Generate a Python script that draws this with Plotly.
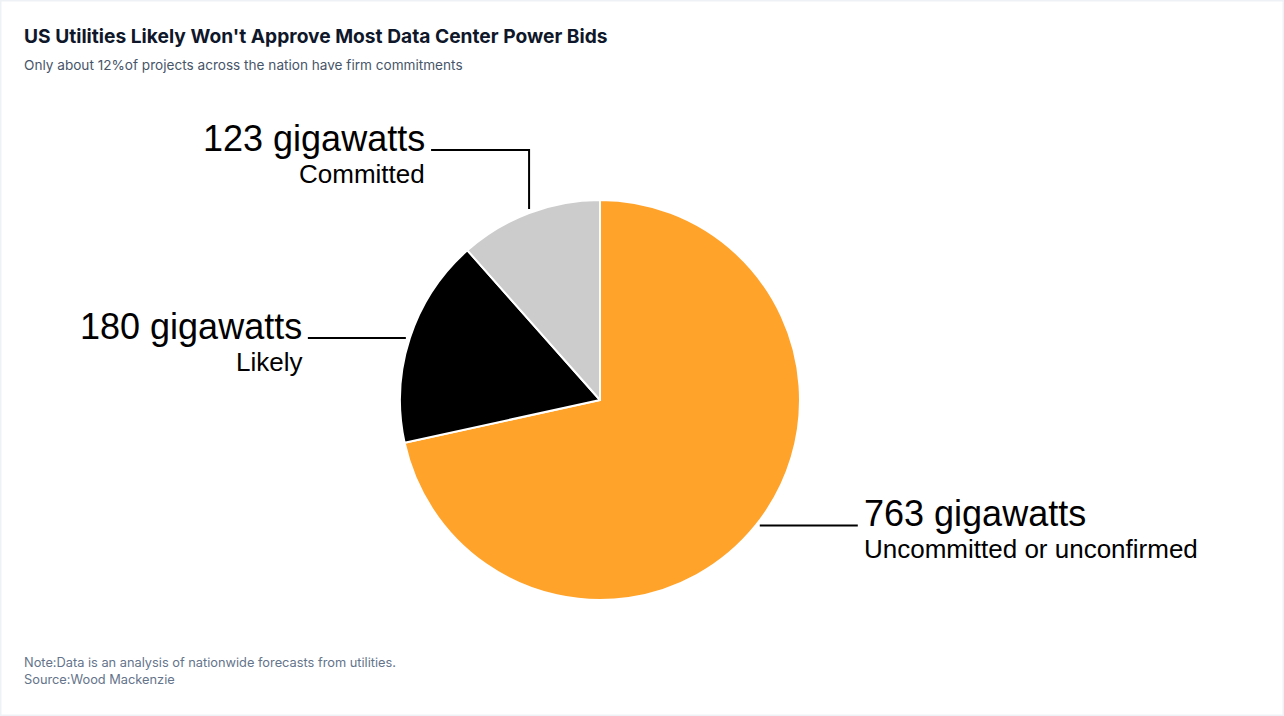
import numpy as np
import plotly.graph_objects as go

# Data
categories = ["Uncommitted or unconfirmed", "Likely", "Committed"]
gigawatts = [763, 180, 123]
colors = ["#FFA32B", "#000000", "#CCCCCC"]

W, H = 1284, 716
CX, CY, R = 600, 400, 200

fig = go.Figure()

fig.add_trace(go.Pie(
    labels=categories,
    values=gigawatts,
    sort=False,
    direction="clockwise",
    rotation=0,
    marker=dict(colors=colors, line=dict(color="white", width=2)),
    textinfo="none",
    hoverinfo="label+value",
    showlegend=False,
    domain=dict(x=[(CX - R) / W, (CX + R) / W], y=[(H - CY - R) / H, (H - CY + R) / H]),
))

# leader lines + labels, placed from the slice mid angles
total = sum(gigawatts)
cum = np.cumsum([0] + gigawatts)
mid_deg = [(cum[i] + gigawatts[i] / 2) / total * 360 for i in range(len(gigawatts))]

# per slice: elbow y (None = straight), horizontal run length
elbow = [None, None, 150]
run = 98
gap = 4

for i, name in enumerate(categories):
    a = np.radians(mid_deg[i])
    px = CX + R * np.sin(a)
    py = CY - R * np.cos(a)
    side = 1 if np.sin(a) > 0 else -1
    if elbow[i] is not None:
        xs, ys = [px, px], [py - gap, elbow[i]]
        sx, sy = px, elbow[i]
    else:
        sx, sy = px + side * gap, py
        xs, ys = [sx], [sy]
    ex = sx + side * run
    xs.append(ex)
    ys.append(sy)
    fig.add_trace(go.Scatter(x=xs, y=ys, mode="lines", line=dict(color="black", width=2),
                             hoverinfo="skip", showlegend=False, xaxis="x", yaxis="y"))
    anchor = "left" if side > 0 else "right"
    tx = ex + side * 4
    fig.add_annotation(x=tx, y=sy + 11, xref="x", yref="y", text=f"{gigawatts[i]} gigawatts",
                       showarrow=False, xanchor=anchor, yanchor="bottom",
                       font=dict(family="Liberation Sans, Arial", size=36, color="black"))
    fig.add_annotation(x=tx, y=sy + 7, xref="x", yref="y", text=name,
                       showarrow=False, xanchor=anchor, yanchor="top",
                       font=dict(family="Liberation Sans, Arial", size=26, color="black"))

fig.add_annotation(x=22 / W, y=1 - 36 / H, xref="paper", yref="paper",
                   text="<b>US Utilities Likely Won't Approve Most Data Center Power Bids</b>",
                   showarrow=False, xanchor="left", yanchor="middle",
                   font=dict(family="Inter", size=19.2, color="#0f172a"))
fig.add_annotation(x=22 / W, y=1 - 65 / H, xref="paper", yref="paper",
                   text="Only about 12%of projects across the nation have firm commitments",
                   showarrow=False, xanchor="left", yanchor="middle",
                   font=dict(family="Inter", size=13.6, color="#475569"))
fig.add_annotation(x=22 / W, y=1 - 671 / H, xref="paper", yref="paper",
                   text="Note:Data is an analysis of nationwide forecasts from utilities.<br>Source:Wood Mackenzie",
                   showarrow=False, xanchor="left", yanchor="middle", align="left",
                   font=dict(family="Inter", size=12.8, color="#64748b"))

fig.add_shape(type="rect", xref="paper", yref="paper", x0=0, y0=0, x1=1, y1=1,
              line=dict(color="#eef1f5", width=3), layer="below")

fig.update_layout(
    width=W, height=H,
    margin=dict(l=0, r=0, t=0, b=0),
    paper_bgcolor="white",
    plot_bgcolor="rgba(0,0,0,0)",
    xaxis=dict(range=[0, W], visible=False, fixedrange=True),
    yaxis=dict(range=[H, 0], visible=False, fixedrange=True),
)

fig.write_html("out.html", config={"displayModeBar": False},
               post_script="document.body.style.margin='0';document.body.style.overflow='hidden';")
